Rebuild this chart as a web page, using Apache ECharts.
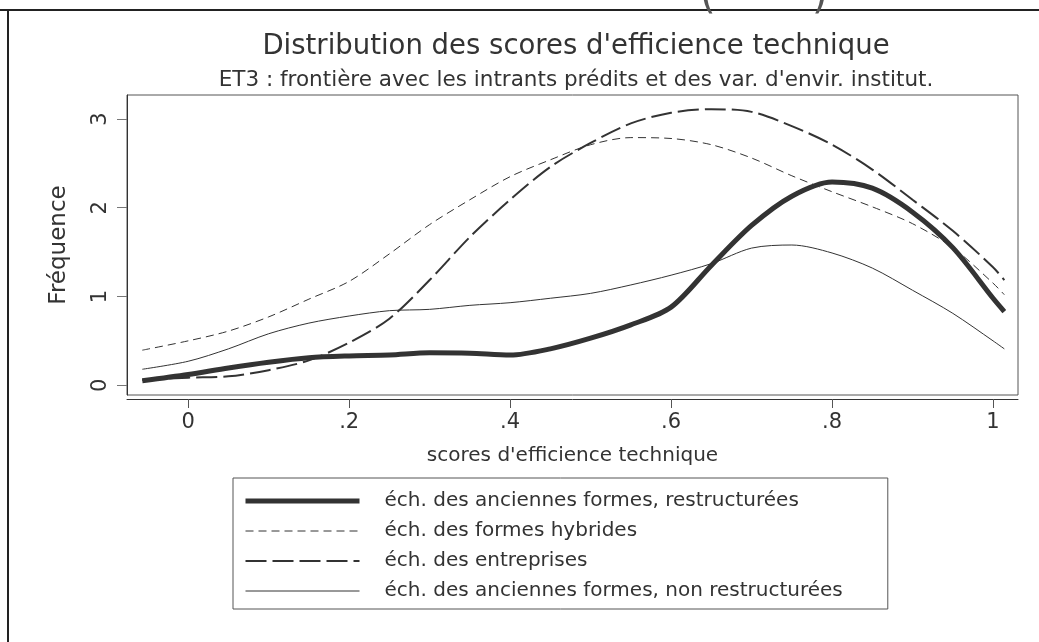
<!DOCTYPE html>
<html>
<head>
    <meta charset="utf-8">
    <script src="https://cdn.jsdelivr.net/npm/echarts@6/dist/echarts.min.js"></script>
    <style>
        html, body, #chart {
            width: 100%;
            height: 100%;
            margin: 0px;
            background: #fff;
        }
    </style>
</head>
<body>
    <div id="chart"></div>
    <script>
        // scores (x) shared by every density curve
        var scores = [-0.057, 0, 0.05, 0.1, 0.15, 0.2, 0.25, 0.3, 0.35, 0.4, 0.45, 0.5,
            0.55, 0.6, 0.65, 0.7, 0.75, 0.8, 0.85, 0.9, 0.95, 1.0, 1.014];
        var restructurees = [0.05, 0.12, 0.195, 0.26, 0.31, 0.33, 0.34, 0.365, 0.36, 0.34, 0.41, 0.53,
            0.68, 0.88, 1.35, 1.8, 2.13, 2.29, 2.22, 1.95, 1.55, 0.98, 0.83];
        var hybrides = [0.395, 0.5, 0.61, 0.77, 0.97, 1.17, 1.48, 1.81, 2.09, 2.35, 2.54, 2.71,
            2.79, 2.78, 2.71, 2.56, 2.36, 2.18, 2.01, 1.82, 1.55, 1.15, 1.02];
        var entreprises = [0.06, 0.085, 0.1, 0.17, 0.28, 0.48, 0.75, 1.185, 1.67, 2.09, 2.46, 2.73,
            2.95, 3.07, 3.11, 3.08, 2.92, 2.71, 2.43, 2.09, 1.74, 1.33, 1.185];
        var nonRestructurees = [0.18, 0.27, 0.41, 0.58, 0.7, 0.78, 0.84, 0.855, 0.9, 0.93, 0.98, 1.035,
            1.13, 1.24, 1.37, 1.545, 1.58, 1.49, 1.32, 1.07, 0.81, 0.5, 0.41];

        var seriesNames = [
            'éch. des anciennes formes, restructurées',
            'éch. des formes hybrides',
            'éch. des entreprises',
            'éch. des anciennes formes, non restructurées'
        ];
        var xTicks = [0, 0.2, 0.4, 0.6, 0.8, 1];
        var yTicks = [0, 1, 2, 3];

        var FONT = 'DejaVu Sans';
        var INK = '#333';

        function pairs(ys) {
            return scores.map(function (x, i) { return [x, ys[i]]; });
        }
        function tickText(v) {
            if (v === 0) return '0';
            if (v === 1) return '1';
            return String(v).replace('0.', '.');
        }

        var myChart = echarts.init(document.getElementById('chart'));
        var option = {
            backgroundColor: '#fff',
            animation: false,
            color: ['#333', '#333', '#333', '#333'],
            title: {
                text: 'Distribution des scores d\'efficience technique',
                subtext: 'ET3 : frontière avec les intrants prédits et des var. d\'envir. institut.',
                left: 576,
                top: 33,
                textAlign: 'center',
                padding: 0,
                itemGap: 8,
                textStyle: { fontFamily: FONT, fontSize: 27.5, fontWeight: 'normal', color: INK },
                subtextStyle: { fontFamily: FONT, fontSize: 21.5, color: INK }
            },
            grid: {
                left: 127,
                top: 95,
                right: 21,
                bottom: 247,
                show: true,
                borderColor: '#555',
                borderWidth: 1
            },
            xAxis: {
                type: 'value',
                min: -0.076,
                max: 1.031,
                offset: 4,
                name: 'scores d\'efficience technique',
                nameLocation: 'middle',
                nameGap: 47,
                nameTextStyle: { fontFamily: FONT, fontSize: 20, color: INK },
                axisLine: { onZero: false, lineStyle: { color: '#333', width: 1 } },
                axisTick: { length: 9, lineStyle: { color: '#555' }, customValues: xTicks },
                axisLabel: {
                    customValues: xTicks,
                    formatter: tickText,
                    fontFamily: FONT, fontSize: 21, color: INK, margin: 13
                },
                splitLine: { show: false }
            },
            yAxis: {
                type: 'value',
                min: -0.11,
                max: 3.27,
                name: 'Fréquence',
                nameLocation: 'middle',
                nameGap: 56,
                nameTextStyle: { fontFamily: FONT, fontSize: 23, color: INK },
                axisLine: { show: true, onZero: false, lineStyle: { color: '#333', width: 1 } },
                axisTick: { show: true, length: 10, lineStyle: { color: '#777' }, customValues: yTicks },
                axisLabel: {
                    customValues: yTicks,
                    rotate: 90,
                    fontFamily: FONT, fontSize: 21, color: INK, margin: 16
                },
                splitLine: { show: false }
            },
            legend: {
                orient: 'vertical',
                left: 233,
                top: 478,
                padding: [13, 45, 8, 10],
                itemWidth: 114,
                itemHeight: 20,
                itemGap: 10,
                borderColor: '#555',
                borderWidth: 1,
                selectedMode: false,
                itemStyle: { opacity: 0 },
                lineStyle: { width: 'inherit', type: 'inherit', color: '#333' },
                textStyle: { fontFamily: FONT, fontSize: 20, color: INK, padding: [0, 0, 0, 20] },
                data: seriesNames
            },
            series: [
                {
                    name: seriesNames[0], type: 'line', data: pairs(restructurees),
                    smooth: 0.3, symbol: 'none',
                    lineStyle: { color: '#333', width: 5, type: 'solid' }, z: 5
                },
                {
                    name: seriesNames[1], type: 'line', data: pairs(hybrides),
                    smooth: 0.3, symbol: 'none',
                    lineStyle: { color: '#333', width: 1, type: [8, 5] }
                },
                {
                    name: seriesNames[2], type: 'line', data: pairs(entreprises),
                    smooth: 0.3, symbol: 'none',
                    lineStyle: { color: '#333', width: 2, type: [21, 6] }
                },
                {
                    name: seriesNames[3], type: 'line', data: pairs(nonRestructurees),
                    smooth: 0.3, symbol: 'none',
                    lineStyle: { color: '#333', width: 1, type: 'solid' }
                }
            ],
            graphic: [
                { type: 'line', shape: { x1: 0, y1: 10, x2: 1039, y2: 10 }, style: { stroke: '#222', lineWidth: 2 } },
                { type: 'line', shape: { x1: 8, y1: 10, x2: 8, y2: 642 }, style: { stroke: '#222', lineWidth: 2 } },
                { type: 'text', x: 700, y: 18, style: { text: '(', fontFamily: FONT, fontSize: 40, fill: '#555', verticalAlign: 'bottom' } },
                { type: 'text', x: 812, y: 18, style: { text: ')', fontFamily: FONT, fontSize: 40, fill: '#555', verticalAlign: 'bottom' } }
            ]
        };
        myChart.setOption(option);
    </script>
</body>
</html>
